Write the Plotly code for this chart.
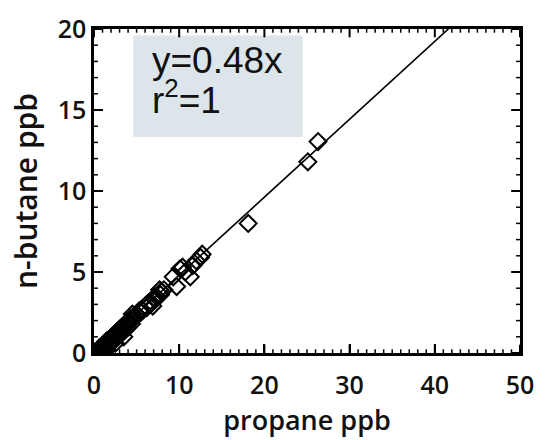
import plotly.graph_objects as go

# Data (ppb)
propane = [0.1, 0.3, 0.5, 0.6, 0.8, 1.0, 1.2, 1.4, 1.5, 1.7, 1.9, 2.1, 2.3, 2.5, 2.7, 2.9, 3.1,
           3.3, 3.5, 3.7, 3.9, 4.1, 4.3, 4.5, 4.8, 5.0, 5.3, 5.6, 6.0, 6.4, 6.9, 7.0, 7.3,
           7.7, 7.9, 8.2, 9.3, 9.7, 10.1, 10.4, 10.7, 11.3, 11.6, 12.0, 12.5, 12.7,
           18.1, 25.1, 26.3,
           0.7, 1.1, 1.6, 2.0, 2.4, 2.8, 3.2, 3.6, 4.0, 4.4, 1.3, 1.8, 2.2, 2.6, 3.0, 3.4,
           3.8, 4.2, 4.6, 5.5, 6.2, 6.6, 7.2, 7.8, 0.4, 0.9, 1.5, 2.5, 3.5]
butane = [0.05, 0.1, 0.2, 0.3, 0.35, 0.45, 0.55, 0.65, 0.75, 0.8, 0.9, 1.0, 1.1, 1.2, 1.3, 1.4, 1.5,
          1.6, 1.7, 1.8, 1.9, 2.0, 2.1, 2.4, 2.3, 2.4, 2.6, 2.7, 2.9, 3.1, 2.9, 3.4, 3.5,
          3.9, 3.8, 3.9, 4.7, 4.1, 5.2, 5.3, 5.0, 4.7, 5.4, 5.7, 5.9, 6.1,
          8.0, 11.8, 13.05,
          0.1, 0.25, 0.4, 0.6, 0.8, 1.0, 1.2, 1.4, 1.6, 1.8, 0.5, 0.7, 0.9, 1.1, 1.3, 1.5,
          1.7, 1.9, 2.1, 2.5, 2.8, 3.0, 3.3, 3.6, 0.02, 0.05, 0.2, 0.6, 1.0]
fit_x = [0.0, 42.0]
fit_y = [0.0, 20.2]

X_RANGE = [0, 50]
Y_RANGE = [0, 20.0001]
X_MAJOR, X_MINOR = 10, 1
Y_MAJOR, Y_MINOR = 5, 1

# layout geometry (pixels)
W, H = 545, 440
ML, MR, MT, MB = 94, 18, 11, 78
PW, PH = W - ML - MR, H - MT - MB
MAJOR_LEN, MINOR_LEN = 9, 4


def tick_segments(vals, length_px, vertical):
    """Inward tick segments on both sides of the frame, derived from the axis ticks."""
    xs, ys = [], []
    if vertical:  # ticks of the x axis (bottom and top)
        d = length_px / PH * (Y_RANGE[1] - Y_RANGE[0])
        for v in vals:
            xs += [v, v, None, v, v, None]
            ys += [Y_RANGE[0], Y_RANGE[0] + d, None, Y_RANGE[1], Y_RANGE[1] - d, None]
    else:  # ticks of the y axis (left and right)
        d = length_px / PW * (X_RANGE[1] - X_RANGE[0])
        for v in vals:
            xs += [X_RANGE[0], X_RANGE[0] + d, None, X_RANGE[1], X_RANGE[1] - d, None]
            ys += [v, v, None, v, v, None]
    return xs, ys


x_major_vals = list(range(0, 51, X_MAJOR))
x_minor_vals = [v for v in range(0, 51, X_MINOR) if v % X_MAJOR]
y_major_vals = list(range(0, 21, Y_MAJOR))
y_minor_vals = [v for v in range(0, 21, Y_MINOR) if v % Y_MAJOR]

fig = go.Figure()
for vals, ln, vert, wd in [(x_major_vals, MAJOR_LEN, True, 2), (x_minor_vals, MINOR_LEN, True, 1.5),
                           (y_major_vals, MAJOR_LEN, False, 2), (y_minor_vals, MINOR_LEN, False, 1.5)]:
    tx, ty = tick_segments(vals, ln, vert)
    fig.add_trace(go.Scatter(x=tx, y=ty, mode="lines", line=dict(color="black", width=wd),
                             showlegend=False, hoverinfo="skip", cliponaxis=False))

fig.add_trace(go.Scatter(x=fit_x, y=fit_y, mode="lines",
                         line=dict(color="black", width=1.6), showlegend=False))
fig.add_trace(go.Scatter(x=propane, y=butane, mode="markers",
                         marker=dict(symbol="diamond-open", size=13, color="black",
                                     line=dict(width=2, color="black")),
                         showlegend=False))

tickfont = dict(family="Open Sans", size=25, color="#111111", weight=600)

fig.update_layout(
    xaxis=dict(range=X_RANGE, showline=True, linecolor="black", linewidth=2.5, mirror=True,
               tickmode="linear", tick0=0, dtick=X_MAJOR, ticks="inside", ticklen=MAJOR_LEN,
               tickwidth=2, tickcolor="black", showgrid=False, zeroline=False,
               tickfont=tickfont, ticklabelstandoff=8, ticklabeloverflow="allow",
               title=dict(text="propane ppb", standoff=9,
                          font=dict(family="Open Sans", size=27, color="#111111", weight=600))),
    yaxis=dict(range=Y_RANGE, showline=True, linecolor="black", linewidth=2.5, mirror=True,
               tickmode="linear", tick0=0, dtick=Y_MAJOR, ticks="inside", ticklen=MAJOR_LEN,
               tickwidth=2, tickcolor="black", showgrid=False, zeroline=False,
               tickfont=tickfont, ticklabeloverflow="allow",
               title=dict(text="n-butane ppb", standoff=12,
                          font=dict(family="Open Sans", size=30, color="#111111", weight=600))),
)

# text box
fig.add_shape(type="rect", xref="paper", yref="paper",
              x0=(134 - ML) / PW, x1=(306 - ML) / PW,
              y0=(H - MB - 128) / PH, y1=(H - MB - 18) / PH,
              fillcolor="#dce6ea", line=dict(width=0), layer="below")
boxfont = dict(family="Liberation Sans", size=37, color="#111111")
fig.add_annotation(xref="paper", yref="paper", x=(151 - ML) / PW, y=(H - MB - 70) / PH,
                   xanchor="left", yanchor="bottom", showarrow=False,
                   text="y=0.48x", font=boxfont)
fig.add_annotation(xref="paper", yref="paper", x=(151 - ML) / PW, y=(H - MB - 113) / PH,
                   xanchor="left", yanchor="bottom", showarrow=False,
                   text="r<sup>2</sup>=1", font=boxfont)

fig.update_layout(width=W, height=H, margin=dict(l=ML, r=MR, t=MT, b=MB),
                  plot_bgcolor="white", paper_bgcolor="white")

fig.write_html("out.html")
